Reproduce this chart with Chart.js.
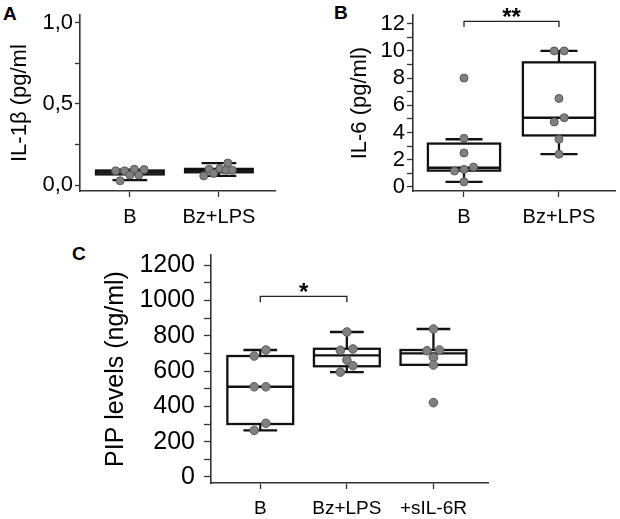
<!DOCTYPE html>
<html>
<head>
<meta charset="utf-8">
<script src="https://cdn.jsdelivr.net/npm/chart.js@4.4.1/dist/chart.umd.min.js"></script>
<style>
  html, body { margin:0; padding:0; background:#fff; width:620px; height:519px; overflow:hidden; }
  canvas { position:absolute; }
  .lbl { position:absolute; font-family:'Liberation Sans', Arial, sans-serif; font-weight:bold; font-size:19px; color:#000; line-height:1; }
</style>
</head>
<body>
<div class="lbl" style="left:3px; top:4px;">A</div>
<div class="lbl" style="left:334px; top:3px;">B</div>
<div class="lbl" style="left:72px; top:244px;">C</div>
<canvas id="cA" width="300" height="230" style="left:0; top:0;"></canvas>
<canvas id="cB" width="320" height="230" style="left:300px; top:0;"></canvas>
<canvas id="cC" width="620" height="289" style="left:0; top:230px;"></canvas>
<script>
// ---------- Panel A : IL-1β ----------
const catsA = ['B', 'Bz+LPS'];
const yTicksA = [0, 0.25, 0.5, 0.75, 1.0];
const yLabelsA = ['0,0', '', '0,5', '', '1,0'];
const pointsA_B = [0.089, 0.028, 0.089, 0.063, 0.099, 0.063, 0.097];
const pointsA_Bz = [0.058, 0.099, 0.073, 0.103, 0.137, 0.093, 0.093];
const jitterA_B = [-0.16, -0.11, -0.06, 0, 0.05, 0.10, 0.16];
const jitterA_Bz = [-0.17, -0.11, -0.06, 0.01, 0.10, 0.08, 0.15];
const q1A = [0.067, 0.080];
const medA = [0.079, 0.090];
const q3A = [0.091, 0.101];
const loA = [0.032, 0.058];
const hiA = [0.097, 0.137];

// ---------- Panel B : IL-6 ----------
const catsB = ['B', 'Bz+LPS'];
const yTicksB = [0,1,2,3,4,5,6,7,8,9,10,11,12];
const yLabelsB = ['0','','2','','4','','6','','8','','10','','12'];
const pointsB_B = [8.0, 3.57, 2.49, 1.16, 1.28, 1.45, 0.36];
const pointsB_Bz = [10.0, 10.0, 6.5, 4.77, 5.08, 3.5, 2.4];
const jitterB_B = [0, 0, 0, -0.10, 0, 0.10, 0];
const jitterB_Bz = [-0.05, 0.055, 0, -0.05, 0.055, 0, 0];
const q1B = [1.19, 3.78];
const medB = [1.40, 5.08];
const q3B = [3.18, 9.16];
const loB = [0.36, 2.4];
const hiB = [3.5, 10.0];
const bracketsB = [{from: 0, to: 1, y: 12.18, drop: 11.76, label: '**'}];

// ---------- Panel C : PIP ----------
const catsC = ['B', 'Bz+LPS', '+sIL-6R'];
const yTicksC = [0,100,200,300,400,500,600,700,800,900,1000,1100,1200];
const yLabelsC = ['0','','200','','400','','600','','800','','1000','','1200'];
const pointsC_B = [685, 719, 511, 511, 304, 264];
const pointsC_Bz = [821, 717, 725, 662, 630, 594];
const pointsC_S = [838, 715, 719, 677, 634, 421];
const jitterC_B = [-0.07, 0.065, -0.07, 0.065, 0.065, -0.07];
const jitterC_Bz = [0, -0.075, 0.07, 0, 0.07, -0.075];
const jitterC_S = [0, -0.075, 0.07, 0, 0, 0];
const q1C = [300, 627, 635];
const medC = [511, 689, 700];
const q3C = [685, 726, 719];
const loC = [264, 594, 635];
const hiC = [719, 821, 838];
const bracketsC = [{from: 0, to: 1, y: 1023, drop: 989, label: '*'}];

const FONT = "'Liberation Sans', Arial, sans-serif";
const BOX_HALF = 0.38, CAP_HALF = 0.195;

function boxPlugin(stats, brackets) {
  return {
    id: 'boxes',
    beforeDatasetsDraw(chart) {
      const {ctx} = chart;
      const xs = chart.scales.x, ys = chart.scales.y;
      ctx.save();
      ctx.strokeStyle = '#111';
      ctx.lineWidth = 2.3;
      ctx.lineCap = 'butt';
      const line = (x1, y1, x2, y2) => { ctx.beginPath(); ctx.moveTo(x1, y1); ctx.lineTo(x2, y2); ctx.stroke(); };
      stats.q1.forEach((q1, i) => {
        const xc = xs.getPixelForValue(i);
        const xl = xs.getPixelForValue(i - BOX_HALF), xr = xs.getPixelForValue(i + BOX_HALF);
        const cl = xs.getPixelForValue(i - CAP_HALF), cr = xs.getPixelForValue(i + CAP_HALF);
        const pQ1 = ys.getPixelForValue(q1), pQ3 = ys.getPixelForValue(stats.q3[i]);
        const pMed = ys.getPixelForValue(stats.med[i]);
        const pLo = ys.getPixelForValue(stats.lo[i]), pHi = ys.getPixelForValue(stats.hi[i]);
        if (pHi < pQ3 - 0.5) { line(xc, pHi, xc, pQ3); line(cl, pHi, cr, pHi); }
        if (pLo > pQ1 + 0.5) { line(xc, pLo, xc, pQ1); line(cl, pLo, cr, pLo); }
        ctx.fillStyle = '#fff';
        ctx.fillRect(xl, pQ3, xr - xl, pQ1 - pQ3);
        ctx.strokeRect(xl, pQ3, xr - xl, pQ1 - pQ3);
        line(xl, pMed, xr, pMed);
      });
      (brackets || []).forEach(b => {
        const x1 = xs.getPixelForValue(b.from), x2 = xs.getPixelForValue(b.to);
        const py = ys.getPixelForValue(b.y), pd = ys.getPixelForValue(b.drop);
        ctx.lineWidth = 1.3;
        ctx.strokeStyle = '#222';
        ctx.beginPath();
        ctx.moveTo(x1, pd); ctx.lineTo(x1, py); ctx.lineTo(x2, py); ctx.lineTo(x2, pd);
        ctx.stroke();
        ctx.fillStyle = '#000';
        ctx.font = 'bold 24px ' + FONT;
        ctx.textAlign = 'center';
        ctx.textBaseline = 'alphabetic';
        ctx.fillText(b.label, (x1 + x2) / 2, py + 4);
      });
      ctx.restore();
    }
  };
}

function makePanel(id, o) {
  const datasets = o.points.map((vals, g) => ({
    data: vals.map((v, i) => ({x: g + o.jitter[g][i], y: v})),
    backgroundColor: '#808080',
    borderColor: '#5a5a5a',
    borderWidth: 1,
    pointRadius: o.radius,
    pointHoverRadius: o.radius
  }));
  new Chart(document.getElementById(id), {
    type: 'scatter',
    data: {datasets},
    plugins: [boxPlugin(o.stats, o.brackets)],
    options: {
      responsive: false,
      animation: false,
      events: [],
      layout: {padding: o.padding},
      plugins: {legend: {display: false}, tooltip: {enabled: false}},
      scales: {
        x: {
          type: 'linear', min: o.xmin, max: o.xmax,
          afterBuildTicks: s => { s.ticks = o.cats.map((c, i) => ({value: i})); },
          afterFit: s => { s.height = o.xh; },
          ticks: {callback: v => o.cats[v], font: {family: FONT, size: o.xfont}, color: '#000', padding: o.xpad, maxRotation: 0, autoSkip: false},
          grid: {display: true, drawOnChartArea: false, tickLength: 6, color: '#333', tickWidth: 1.3},
          border: {display: true, color: '#333', width: 1.6}
        },
        y: {
          type: 'linear', min: o.ymin, max: o.ymax,
          afterBuildTicks: s => { s.ticks = o.yTicks.map(v => ({value: v})); },
          afterFit: s => { s.width = o.yw; },
          ticks: {callback: (v, i) => o.yLabels[i], font: {family: FONT, size: o.yfont}, color: '#000', padding: o.ypad, autoSkip: false},
          grid: {display: true, drawOnChartArea: false, tickLength: o.ytl, color: '#333', tickWidth: 1.3},
          border: {display: true, color: '#333', width: 1.6},
          title: {display: true, text: o.title, font: {family: FONT, size: o.tfont}, color: '#000', padding: 0}
        }
      }
    }
  });
}

makePanel('cA', {
  cats: catsA, yTicks: yTicksA, yLabels: yLabelsA,
  points: [pointsA_B, pointsA_Bz], jitter: [jitterA_B, jitterA_Bz],
  stats: {q1: q1A, med: medA, q3: q3A, lo: loA, hi: hiA}, brackets: [],
  title: 'IL-1β (pg/ml', radius: 4,
  xmin: -0.56, xmax: 1.63, ymin: -0.035, ymax: 1.046,
  padding: {left: 7, top: 13, right: 25, bottom: 0},
  yw: 73, xh: 39, xfont: 20, yfont: 22, tfont: 22, xpad: 8, ypad: 2, ytl: 5
});

makePanel('cB', {
  cats: catsB, yTicks: yTicksB, yLabels: yLabelsB,
  points: [pointsB_B, pointsB_Bz], jitter: [jitterB_B, jitterB_Bz],
  stats: {q1: q1B, med: medB, q3: q3B, lo: loB, hi: hiB}, brackets: bracketsB,
  title: 'IL-6 (pg/ml)', radius: 4,
  xmin: -0.537, xmax: 1.59, ymin: -0.31, ymax: 12.63,
  padding: {left: 47, top: 12, right: 5, bottom: 0},
  yw: 66, xh: 39, xfont: 20, yfont: 22, tfont: 22, xpad: 8, ypad: 2, ytl: 6
});

makePanel('cC', {
  cats: catsC, yTicks: yTicksC, yLabels: yLabelsC,
  points: [pointsC_B, pointsC_Bz, pointsC_S], jitter: [jitterC_B, jitterC_Bz, jitterC_S],
  stats: {q1: q1C, med: medC, q3: q3C, lo: loC, hi: hiC}, brackets: bracketsC,
  title: 'PIP levels (ng/ml)', radius: 4.3,
  xmin: -0.569, xmax: 2.63, ymin: -34, ymax: 1257,
  padding: {left: 101, top: 25, right: 132, bottom: 0},
  yw: 110, xh: 36, xfont: 19, yfont: 25, tfont: 25, xpad: 8, ypad: 9, ytl: 7
});
</script>
</body>
</html>
